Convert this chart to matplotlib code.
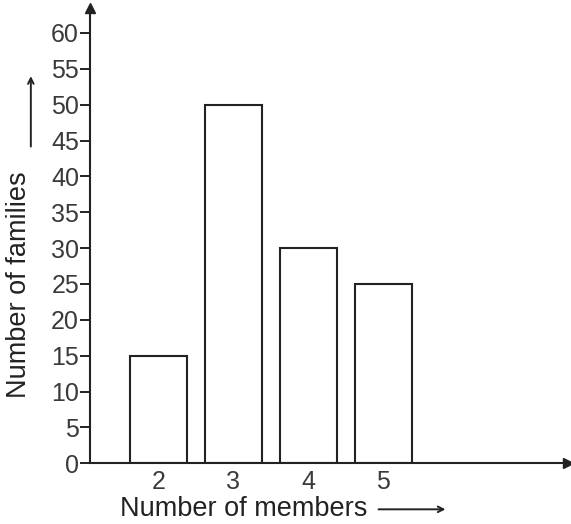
import matplotlib.pyplot as plt

members = [2, 3, 4, 5]
families = [15, 50, 30, 25]
y_ticks = list(range(0, 65, 5))

plt.rcParams["font.family"] = ["Liberation Sans", "DejaVu Sans"]

fig = plt.figure(figsize=(5.71, 5.24), dpi=100)
ax = fig.add_axes([0.158, 0.116, 0.837, 0.869])

ax.bar(members, families, width=0.76, facecolor="white", edgecolor="#222222",
       linewidth=1.5, zorder=2)

ax.set_xlim(1.093, 7.47)
ax.set_ylim(0, 63.5)

ax.spines["top"].set_visible(False)
ax.spines["right"].set_visible(False)
for s in ("left", "bottom"):
    ax.spines[s].set_linewidth(1.5)
    ax.spines[s].set_color("#222222")

ax.set_yticks(y_ticks)
ax.set_xticks(members)
ax.tick_params(axis="y", direction="out", length=7, width=1.4, pad=1,
               labelsize=18, colors="#222222", labelcolor="#3a3a3a")
ax.tick_params(axis="x", length=0, pad=5, labelsize=18, labelcolor="#3a3a3a")

# arrow heads on the axes
ax.plot(1.093, 63.5, marker="^", color="#222222", markersize=7,
        clip_on=False, zorder=5)
ax.plot(7.47, 0, marker=">", color="#222222", markersize=7,
        clip_on=False, zorder=5)

# axis labels with arrows
fig.text(0.21, 0.028, "Number of members", fontsize=19.5, color="#222222",
         ha="left", va="center")
ax.annotate("", xy=(0.785, 0.028), xytext=(0.658, 0.028),
            xycoords="figure fraction", textcoords="figure fraction",
            annotation_clip=False,
            arrowprops=dict(arrowstyle="->", color="#222222", lw=1.4))

fig.text(0.033, 0.456, "Number of families", fontsize=19.5, color="#222222",
         rotation=90, ha="center", va="center")
ax.annotate("", xy=(0.054, 0.86), xytext=(0.054, 0.715),
            xycoords="figure fraction", textcoords="figure fraction",
            annotation_clip=False,
            arrowprops=dict(arrowstyle="->", color="#222222", lw=1.4))

fig.savefig("out.png", dpi=100, facecolor="white")
